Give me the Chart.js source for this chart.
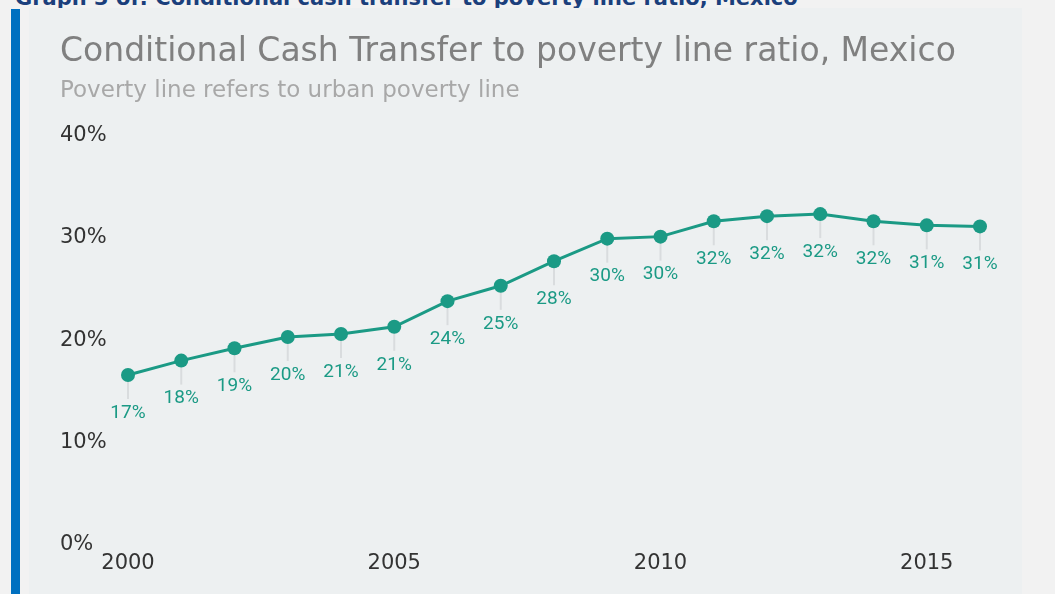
<!DOCTYPE html>
<html>
<head>
<meta charset="utf-8">
<script src="https://cdn.jsdelivr.net/npm/chart.js@4"></script>
<style>
    html, body { margin: 0; padding: 0; }
    body { width: 1055px; height: 594px; background: #f2f2f2; position: relative; overflow: hidden; }
    .heading { position: absolute; left: 15px; top: -14px; font: bold 21px "DejaVu Sans", sans-serif; line-height: 24px; color: #1b3f7c; white-space: nowrap; }
    .bar { position: absolute; left: 11px; top: 9px; width: 9px; bottom: 0; background: #0070c0; }
    .panel { position: absolute; left: 29px; top: 8px; width: 993px; bottom: 0; background: #edf0f1; }
    #chart { position: absolute; left: 0; top: 0; }
</style>
</head>
<body>
<div class="heading">Graph 3 of: Conditional cash transfer to poverty line ratio, Mexico</div>
<div class="bar"></div>
<div class="panel"></div>
<canvas id="chart" width="1055" height="594"></canvas>
<script>
// CCT amount as a share of the urban poverty line (%)
const years = [2000, 2001, 2002, 2003, 2004, 2005, 2006, 2007, 2008, 2009, 2010, 2011, 2012, 2013, 2014, 2015, 2016];
const ratio = [16.6, 18.0, 19.2, 20.3, 20.6, 21.3, 23.8, 25.3, 27.7, 29.9, 30.1, 31.6, 32.1, 32.3, 31.6, 31.2, 31.1];
const xTicks = [2000, 2005, 2010, 2015];
const yTicks = [0, 10, 20, 30, 40];

const TEAL = '#1b9a85';

// Value labels under each point, with a thin grey leader line
const pointLabels = {
    id: 'pointLabels',
    beforeDatasetsDraw(chart) {
        const ctx = chart.ctx;
        const meta = chart.getDatasetMeta(0);
        ctx.save();
        ctx.strokeStyle = '#d9dcde';
        ctx.lineWidth = 2;
        meta.data.forEach(pt => {
            ctx.beginPath();
            ctx.moveTo(pt.x, pt.y);
            ctx.lineTo(pt.x, pt.y + 24);
            ctx.stroke();
        });
        ctx.restore();
    },
    afterDatasetsDraw(chart) {
        const ctx = chart.ctx;
        const meta = chart.getDatasetMeta(0);
        const values = chart.data.datasets[0].data;
        ctx.save();
        ctx.fillStyle = TEAL;
        ctx.font = '19px Roboto';
        ctx.textAlign = 'center';
        ctx.textBaseline = 'middle';
        meta.data.forEach((pt, i) => {
            ctx.fillText(Math.round(values[i].y) + '%', pt.x, pt.y + 38);
        });
        ctx.restore();
    }
};

new Chart(document.getElementById('chart'), {
    type: 'line',
    data: {
        datasets: [{
            data: years.map((yr, i) => ({ x: yr, y: ratio[i] })),
            borderColor: TEAL,
            borderWidth: 3,
            pointRadius: 7,
            pointBackgroundColor: TEAL,
            pointBorderWidth: 0,
            tension: 0,
            clip: false
        }]
    },
    options: {
        responsive: false,
        animation: false,
        devicePixelRatio: 1,
        layout: { padding: { left: 60, right: 75, top: 27, bottom: 0 } },
        plugins: {
            legend: { display: false },
            tooltip: { enabled: false },
            title: {
                display: true,
                text: 'Conditional Cash Transfer to poverty line ratio, Mexico',
                align: 'start',
                color: '#808080',
                font: { family: 'DejaVu Sans', size: 33, weight: 'normal' },
                padding: { top: 6, bottom: 0 }
            },
            subtitle: {
                display: true,
                text: 'Poverty line refers to urban poverty line',
                align: 'start',
                color: '#a8a8a8',
                font: { family: 'DejaVu Sans', size: 23, weight: 'normal' },
                padding: { top: 5, bottom: 30 }
            }
        },
        scales: {
            x: {
                type: 'linear',
                min: 2000,
                max: 2016,
                grid: { display: false },
                border: { display: false },
                afterBuildTicks: s => { s.ticks = xTicks.map(v => ({ value: v })); },
                afterFit: s => { s.height = 49; },
                ticks: {
                    padding: -2,
                    color: '#333',
                    font: { family: 'DejaVu Sans', size: 21 },
                    callback: v => String(v)
                }
            },
            y: {
                min: 0,
                max: 40,
                grid: { display: false },
                border: { display: false },
                afterBuildTicks: s => { s.ticks = yTicks.map(v => ({ value: v })); },
                afterFit: s => { s.width = 68; },
                ticks: {
                    crossAlign: 'far',
                    color: '#333',
                    font: { family: 'DejaVu Sans', size: 21 },
                    callback: v => v + '%'
                }
            }
        }
    },
    plugins: [pointLabels]
});
</script>
</body>
</html>
